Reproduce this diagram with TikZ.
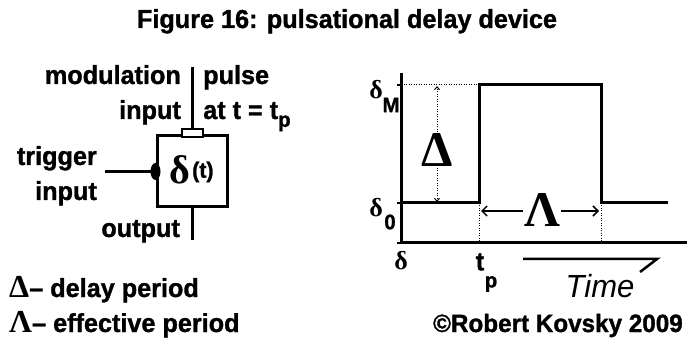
\documentclass[tikz,border=0pt]{standalone}
\usepackage{fontspec}
\setmainfont{Liberation Sans}[FakeStretch=0.97, BoldFeatures={FakeBold=1.2}]
\newfontfamily\serifgr{Liberation Serif}
\usetikzlibrary{shapes.geometric,arrows.meta}
\begin{document}
\begin{tikzpicture}[x=1pt,y=-1pt,
  lbl/.style={inner sep=0pt, font=\fontsize{26}{26}\selectfont\bfseries},
  wire/.style={line width=3pt},
  dots/.style={line width=1pt, dash pattern=on 1pt off 1.5pt},
  bigsym/.style={inner sep=1pt, font=\serifgr\bfseries\fontsize{50}{50}\selectfont},
  axlbl/.style={inner sep=0pt, font=\serifgr\bfseries\fontsize{26}{26}\selectfont},
  sublbl/.style={inner sep=0pt, font=\fontsize{21}{21}\selectfont\bfseries},
  barb/.style={-{Straight Barb[length=5pt,width=10pt,line width=1.5pt]}},
  smallbarb/.style={-{Straight Barb[length=3pt,width=5pt,line width=1pt]}}]
\useasboundingbox (0,0) rectangle (687,344);
\fill[white] (0,0) rectangle (687,344);

% title
\node[lbl, anchor=base] (title) at (347,28) {Figure 16: pulsational delay device};

% block
\node[draw, wire, minimum width=70pt, minimum height=71pt, inner sep=0pt] (box) at (192,171.5) {};
\node[draw, line width=2pt, fill=white, minimum width=21pt, minimum height=8pt, inner sep=0pt] (mod) at (192,133) {};
\coordinate (modtop) at (192,67);
\draw[wire] (modtop) -- (mod.north);
\coordinate (outend) at (192,240);
\draw[wire] (box.south) -- (outend);
\coordinate (trig) at (105,171.5);
\draw[wire] (trig) -- (box.west);
\node[ellipse, fill=black, minimum width=10pt, minimum height=17pt, inner sep=0pt] (dot) at (box.west) {};
\node[inner sep=0pt, font=\serifgr\bfseries\fontsize{40}{40}\selectfont] (dl) at (180,170) {δ};
\node[inner sep=0pt, anchor=west, font=\fontsize{22}{22}\selectfont\bfseries] (tl) at (192,172) {(t)};

\node[lbl, anchor=base east] (modl) at (181,84) {modulation};
\node[lbl, anchor=base east] (inl) at (181,119) {input};
\node[lbl, anchor=base west] (pul) at (203,84) {pulse};
\node[lbl, anchor=base west] (atl) at (203,119) {at t = t\raisebox{-0.3em}{\fontsize{21}{21}\selectfont p}};
\node[lbl, anchor=base east] (trl) at (97,165) {trigger};
\node[lbl, anchor=base east] (til) at (97,200) {input};
\node[lbl, anchor=base east] (outl) at (180,237) {output};

% legend
\node[lbl, anchor=base west] (leg1) at (9,297) {{\serifgr\bfseries\fontsize{32}{32}\selectfont Δ}\textendash\ delay period};
\node[lbl, anchor=base west] (leg2) at (9,332) {{\serifgr\bfseries\fontsize{32}{32}\selectfont Λ}\textendash\ effective period};

% graph axes
\coordinate (O) at (401,243);
\coordinate (ytop) at (401,73);
\coordinate (xend) at (687,243);
\draw[wire] (ytop) -- (O) -- (xend);
\draw[line width=1.5pt] (397,85) -- (401,85) (397,203) -- (401,203) (397,243) -- (401,243);

% signal
\coordinate (s0) at (401,203);
\coordinate (s1) at (479,203);
\coordinate (s2) at (479,85);
\coordinate (s3) at (601,85);
\coordinate (s4) at (601,203);
\coordinate (s5) at (668,203);
\draw[wire, line join=miter] (s0) -- (s1) -- (s2) -- (s3) -- (s4) -- (s5);

% dotted guides
\coordinate (yM) at (401,85);
\draw[dots] (yM) -- (s2);
\coordinate (b1) at (479,243);
\coordinate (b2) at (601,243);
\draw[dots] (s1) -- (b1);
\draw[dots] (s4) -- (b2);

% Delta arrow
\node[bigsym] (D) at (437,150) {Δ};
\coordinate (Dtop) at (437,86);
\coordinate (Dbot) at (437,202);
\draw[dots, smallbarb] (D.north) -- (Dtop);
\draw[dots, smallbarb] (D.south) -- (Dbot);

% Lambda arrow
\node[bigsym] (L) at (542,210) {Λ};
\coordinate (Lleft) at (481,211);
\coordinate (Lright) at (599,211);
\draw[line width=1.5pt, barb] (L.west |- Lleft) -- (Lleft);
\draw[line width=1.5pt, barb] (L.east |- Lright) -- (Lright);

% axis labels
\node[axlbl] (dM) at (376,90) {δ};
\node[sublbl] (dMs) at (391,105) {M};
\node[axlbl] (d0) at (376,208) {δ};
\node[sublbl] (d0s) at (390,222) {0};
\node[axlbl] (dx) at (401,261) {δ};
\node[axlbl, font=\fontsize{26}{26}\selectfont\bfseries] (tp) at (480,262) {t};
\node[sublbl] (tps) at (491,284) {p};

% time arrow
\coordinate (ta) at (523,259);
\coordinate (tb) at (657,259);
\coordinate (tc) at (640,272);
\draw[line width=2.5pt] (ta) -- (tb) -- (tc);
\node[inner sep=0pt, anchor=base, font=\fontsize{32}{32}\selectfont\itshape] (time) at (600,298) {Time};

% copyright
\node[lbl, anchor=base east, font=\fontsize{25}{25}\selectfont\bfseries] (copy) at (683,332) {©Robert Kovsky 2009};
\end{tikzpicture}
\end{document}
